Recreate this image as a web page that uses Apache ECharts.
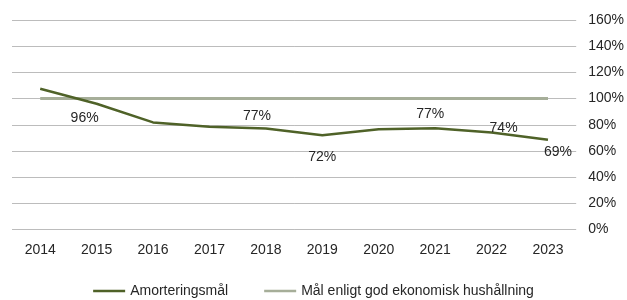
<!DOCTYPE html>
<html>
<head>
<meta charset="utf-8">
<style>html,body{margin:0;padding:0;background:#fff;}#c{width:627px;height:300px;}</style>
<script src="https://cdn.jsdelivr.net/npm/echarts@6/dist/echarts.min.js"></script>
</head>
<body>
<div id="c"></div>
<script>
const years = ['2014','2015','2016','2017','2018','2019','2020','2021','2022','2023'];
const amortering = [107.5, 96, 81.8, 78.5, 77.2, 72, 76.6, 77.4, 74, 68.6];
const malGodHushallning = [100, 100, 100, 100, 100, 100, 100, 100, 100, 100];
const yTicks = [0, 20, 40, 60, 80, 100, 120, 140, 160];
const seriesNames = ['Amorteringsmål', 'Mål enligt god ekonomisk hushållning'];

// label placement per point (null = no label)
const labelCfg = [null, ['bottom',[-12,2]], null, null, ['top',[-9,0]], ['bottom',[0,10]], null, ['top',[-5,-2]], ['top',[12,8]], ['bottom',[10,0]]];

const chart = echarts.init(document.getElementById('c'), null, {renderer:'canvas'});
const font = 'Liberation Sans, Arial, sans-serif';
const txt = '#262626';
chart.setOption({
  animation:false,
  grid:{left:12, right:49, top:20, bottom:70.5},
  xAxis:{type:'category', data:years, boundaryGap:true,
    axisLine:{show:false}, axisTick:{show:false},
    axisLabel:{color:txt, fontSize:14, fontFamily:font, margin:14}},
  yAxis:{type:'value', position:'right', min:yTicks[0], max:yTicks[yTicks.length-1], interval:20,
    axisLine:{show:false}, axisTick:{show:false},
    splitLine:{lineStyle:{color:'#bcbcbc', width:1}},
    axisLabel:{color:txt, fontSize:14, fontFamily:font, margin:12, formatter:'{value}%'}},
  legend:{bottom:-3, itemWidth:32, itemHeight:2.5, itemGap:36,
    textStyle:{color:txt, fontSize:14, fontFamily:font},
    data:[{name:seriesNames[0], icon:'rect'},{name:seriesNames[1], icon:'rect'}]},
  series:[
    {name:seriesNames[1], type:'line', symbol:'none', data:malGodHushallning,
      lineStyle:{color:'#a6ae99', width:3}, itemStyle:{color:'#a6ae99'}, z:2},
    {name:seriesNames[0], type:'line', symbol:'circle', symbolSize:0.01, showSymbol:true,
      data:amortering.map((v,i)=>{
        const c = labelCfg[i];
        if(!c) return {value:v, label:{show:false}};
        return {value:v, label:{show:true, position:c[0], offset:c[1]}};
      }),
      label:{color:txt, fontSize:14, fontFamily:font, formatter:p=>Math.round(p.value)+'%'},
      lineStyle:{color:'#4f6228', width:2.5}, itemStyle:{color:'#4f6228'}, z:3}
  ]
});
</script>
</body>
</html>
